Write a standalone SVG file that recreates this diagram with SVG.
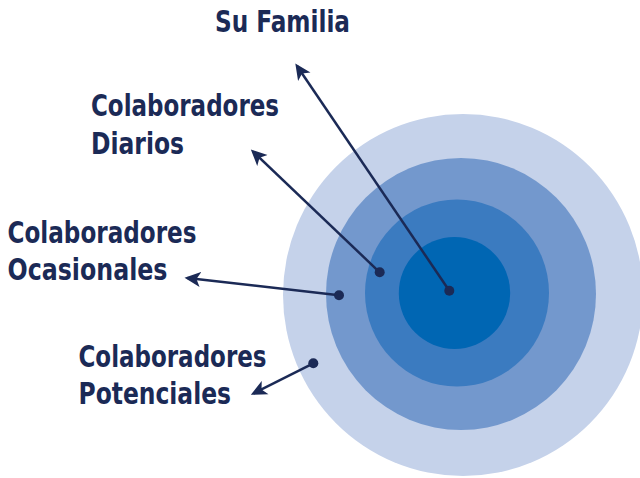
<svg xmlns="http://www.w3.org/2000/svg" width="640" height="478" viewBox="0 0 640 478">
<style>
.lbl{font-family:"Liberation Sans Narrow","DejaVu Sans Condensed","Liberation Sans",sans-serif;font-weight:bold;font-size:30.5px;fill:#1B2A56}
.con{stroke:#1B2A56;stroke-width:2.5;fill:none;marker-end:url(#ah)}
.dot{fill:#1B2A56}
</style>
<defs>
<marker id="ah" viewBox="0 -8 17 16" refX="13" refY="0" markerWidth="17" markerHeight="16" markerUnits="userSpaceOnUse" orient="auto">
<path d="M0,-7.5 L16,0 L0,7.5 L4,0 Z" fill="#1B2A56"/>
</marker>
</defs>
<rect width="640" height="478" fill="#fff"/>
<g id="circles">
<ellipse cx="463" cy="295" rx="180" ry="181" fill="#C5D2EA"/>
<ellipse cx="461" cy="294" rx="135" ry="136" fill="#7398CD"/>
<ellipse cx="457" cy="293" rx="92" ry="93.5" fill="#3B7BC0"/>
<ellipse cx="454.5" cy="293" rx="55.7" ry="56" fill="#0066B3"/>
</g>
<g id="connectors">
<line class="con" x1="449.3" y1="290.7" x2="297" y2="66"/>
<line class="con" x1="379.7" y1="272.3" x2="253" y2="151.5"/>
<line class="con" x1="339" y1="295.3" x2="187.5" y2="278"/>
<line class="con" x1="313.3" y1="363.3" x2="253.5" y2="393.5"/>
<circle class="dot" cx="449.3" cy="290.7" r="5"/>
<circle class="dot" cx="379.7" cy="272.3" r="5"/>
<circle class="dot" cx="339" cy="295.3" r="5"/>
<circle class="dot" cx="313.3" cy="363.3" r="5"/>
</g>
<g id="su-familia">
<text class="lbl" x="215" y="32.3" textLength="135" lengthAdjust="spacingAndGlyphs">Su Familia</text>
</g>
<g id="colaboradores-diarios">
<text class="lbl" x="91" y="115.7" textLength="188" lengthAdjust="spacingAndGlyphs">Colaboradores</text>
<text class="lbl" x="91" y="154.3" textLength="93" lengthAdjust="spacingAndGlyphs">Diarios</text>
</g>
<g id="colaboradores-ocasionales">
<text class="lbl" x="7.5" y="242.7" textLength="189" lengthAdjust="spacingAndGlyphs">Colaboradores</text>
<text class="lbl" x="7.5" y="280" textLength="160" lengthAdjust="spacingAndGlyphs">Ocasionales</text>
</g>
<g id="colaboradores-potenciales">
<text class="lbl" x="78.5" y="366.7" textLength="188" lengthAdjust="spacingAndGlyphs">Colaboradores</text>
<text class="lbl" x="78.5" y="404.3" textLength="152.5" lengthAdjust="spacingAndGlyphs">Potenciales</text>
</g>
</svg>
